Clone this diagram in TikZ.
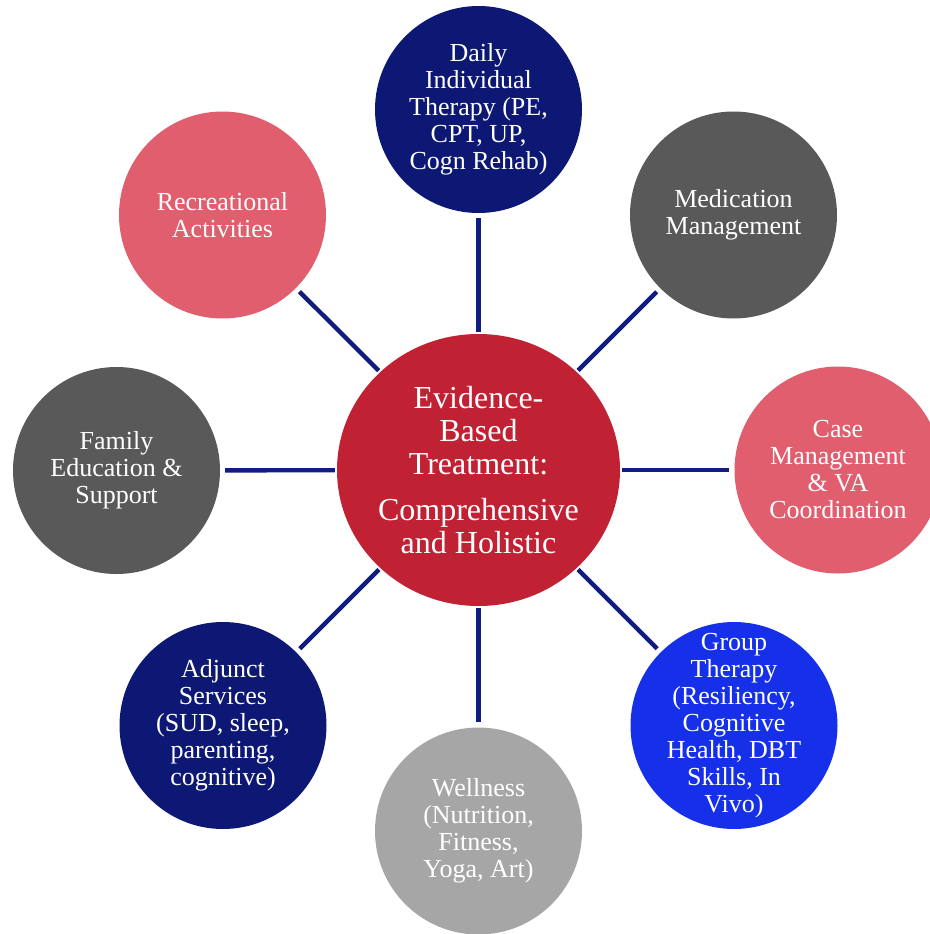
\documentclass[tikz,border=0pt]{standalone}
\usepackage{fontspec}
\setmainfont{Liberation Serif}
\usetikzlibrary{shapes.geometric}
\definecolor{navy}{RGB}{12,24,116}
\definecolor{linenavy}{RGB}{16,28,128}
\definecolor{cred}{RGB}{192,34,51}
\definecolor{pinkc}{RGB}{224,94,110}
\definecolor{darkg}{RGB}{89,89,89}
\definecolor{brightb}{RGB}{21,48,232}
\definecolor{lightg}{RGB}{166,166,166}
\tikzset{
  bub/.style={circle, minimum size=207pt, inner sep=0pt, draw=none},
  txt/.style={text=white, align=center, inner sep=0pt, font=\fontsize{26pt}{27pt}\selectfont},
  ctxt/.style={text=white, align=center, inner sep=0pt, font=\fontsize{32pt}{33pt}\selectfont},
  conn/.style={draw=linenavy, line width=4.4pt, shorten <=2pt, shorten >=5pt}
}
\begin{document}
\begin{tikzpicture}[x=1pt,y=-1pt]
\useasboundingbox (0,0) rectangle (929,934);
\node[ellipse, minimum width=283pt, minimum height=272pt, inner sep=0pt, fill=cred] (c) at (478.5,470) {};
\node[bub, fill=navy] (t) at (478.5,109.5) {};
\node[bub, fill=darkg] (tr) at (733.5,215) {};
\node[bub, fill=pinkc] (r) at (838,470) {};
\node[bub, fill=brightb] (br) at (734,725.5) {};
\node[bub, fill=lightg] (b) at (478.5,831) {};
\node[bub, fill=navy] (bl) at (223,725.5) {};
\node[bub, fill=darkg] (l) at (116.5,470.5) {};
\node[bub, fill=pinkc] (tl) at (222.5,215) {};
\foreach \n in {t,tr,r,br,b,bl,l,tl} { \draw[conn] (c) -- (\n); }
\node[ctxt] (ct) at (c) {Evidence-\\Based\\Treatment:\\[13pt]Comprehensive\\and Holistic};
\node[txt] (tt) at (t) {Daily\\Individual\\Therapy (PE,\\CPT, UP,\\Cogn Rehab)};
\node[txt] (trt) at (tr) {Medication\\Management};
\node[txt] (rt) at (r) {Case\\Management\\\& VA\\Coordination};
\node[txt] (brt) at (br) {Group\\Therapy\\(Resiliency,\\Cognitive\\Health, DBT\\Skills, In\\Vivo)};
\node[txt] (bt) at (b) {Wellness\\(Nutrition,\\Fitness,\\Yoga, Art)};
\node[txt] (blt) at (bl) {Adjunct\\Services\\(SUD, sleep,\\parenting,\\cognitive)};
\node[txt] (lt) at (l) {Family\\Education \&\\Support};
\node[txt] (tlt) at (tl) {Recreational\\Activities};
\end{tikzpicture}
\end{document}
